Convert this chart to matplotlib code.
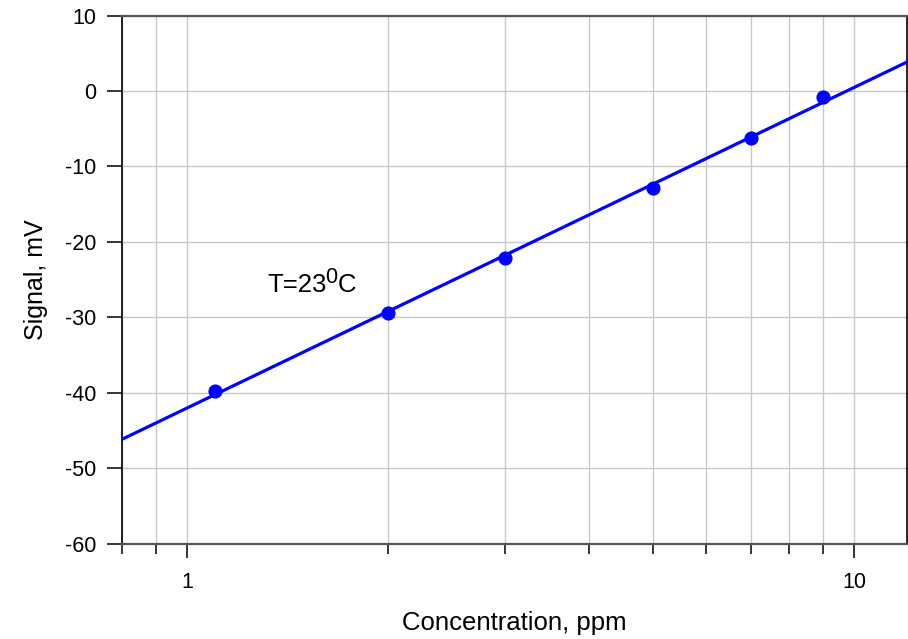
import numpy as np
import matplotlib
matplotlib.use("Agg")
import matplotlib.pyplot as plt
from matplotlib.ticker import LogLocator, FixedLocator, NullFormatter, FuncFormatter

plt.rcParams["font.family"] = ["Liberation Sans", "DejaVu Sans"]
plt.rcParams["axes.unicode_minus"] = False

# Calibration measurements
concentration_ppm = [1.1, 2.0, 3.0, 5.0, 7.0, 9.0]
signal_mv = [-39.8, -29.4, -22.1, -12.9, -6.2, -0.8]

x_limits = [0.8, 12.0]
y_limits = [-60, 10]
y_ticks = [-60, -50, -40, -30, -20, -10, 0, 10]
x_tick_labels = {1.0: "1", 10.0: "10"}

# Temperature note, written as base text + raised degree digit + unit
temp_text = "T=23"
temp_sup = "0"
temp_unit = "C"

# Least-squares calibration line: signal vs log10(concentration)
slope, intercept = np.polyfit(np.log10(concentration_ppm), signal_mv, 1)
x_fit = np.geomspace(x_limits[0], x_limits[1], 200)
y_fit = intercept + slope * np.log10(x_fit)

fig = plt.figure(figsize=(9.08, 6.39), dpi=100)
ax = fig.add_axes([0.1347, 0.1491, 0.8639, 0.8266])

ax.plot(x_fit, y_fit, color="#0000ff", lw=2.3, zorder=3)
ax.plot(concentration_ppm, signal_mv, "o", color="#0000ff", ms=9.2,
        zorder=4, clip_on=False)

ax.set_xscale("log")
ax.set_xlim(*x_limits)
ax.set_ylim(*y_limits)

ax.xaxis.set_major_locator(FixedLocator(list(x_tick_labels.keys())))
ax.xaxis.set_major_formatter(FuncFormatter(lambda v, p: x_tick_labels.get(v, "")))
ax.xaxis.set_minor_locator(LogLocator(base=10, subs=np.arange(2, 10)))
ax.xaxis.set_minor_formatter(NullFormatter())
ax.set_yticks(y_ticks)
ax.set_yticklabels([str(v) for v in y_ticks])

ax.grid(True, which="both", axis="x", color="#c8c8c8", lw=1.0, zorder=0)
ax.grid(True, which="major", axis="y", color="#c8c8c8", lw=1.0, zorder=0)
ax.set_axisbelow(True)

ax.tick_params(axis="x", which="major", direction="out", length=10, width=1.1,
               pad=10, labelsize=15.5, colors="black")
ax.tick_params(axis="x", which="minor", direction="out", length=7.2, width=1.1)
ax.tick_params(axis="y", which="major", direction="out", length=11, width=1.1,
               pad=8, labelsize=15.5)

for side in ("left", "right"):
    ax.spines[side].set_color("black")
    ax.spines[side].set_linewidth(1.2)
for side in ("top", "bottom"):
    ax.spines[side].set_color("#555555")
    ax.spines[side].set_linewidth(1.6)

ax.set_xlabel("Concentration, ppm", fontsize=18.5, labelpad=13)
ax.set_ylabel("Signal, mV", fontsize=18, labelpad=12)

t_main = ax.text(0.185, 0.477, temp_text, transform=ax.transAxes, fontsize=18.5,
                 ha="left", va="baseline")
t_sup = ax.annotate(temp_sup, xy=(1, 0), xycoords=t_main, xytext=(-1.2, 6.5),
                    textcoords="offset points", fontsize=15.5,
                    ha="left", va="bottom")
ax.annotate(temp_unit, xy=(1, 0), xycoords=(t_sup, t_main), xytext=(0.3, 0),
            textcoords="offset points", fontsize=18.5, ha="left", va="bottom")

fig.savefig("out.png", dpi=100)
